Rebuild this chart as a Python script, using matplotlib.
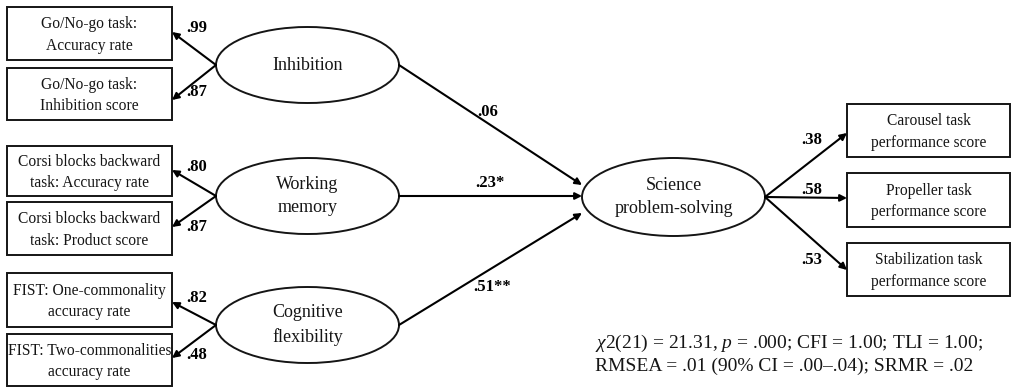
"""Structural model path diagram: executive functions -> science problem-solving."""

import matplotlib

matplotlib.use("Agg")
import matplotlib.pyplot as plt
from matplotlib.patches import Ellipse, Rectangle

plt.rcParams["font.family"] = ["Liberation Serif", "DejaVu Serif"]
plt.rcParams["mathtext.fontset"] = "custom"
plt.rcParams["mathtext.rm"] = "Liberation Serif"
plt.rcParams["mathtext.it"] = "Liberation Serif:italic"

# --- data -----------------------------------------------------------------
factors = ["Inhibition", "Working\nmemory", "Cognitive\nflexibility"]
indicators = [
    "Go/No-go task:\nAccuracy rate",
    "Go/No-go task:\nInhibition score",
    "Corsi blocks backward\ntask: Accuracy rate",
    "Corsi blocks backward\ntask: Product score",
    "FIST: One-commonality\naccuracy rate",
    "FIST: Two-commonalities\naccuracy rate",
]
loadings = [".99", ".87", ".80", ".87", ".82", ".48"]
paths = [".06", ".23*", ".51**"]
outcome = "Science\nproblem-solving"
outcome_indicators = [
    "Carousel task\nperformance score",
    "Propeller task\nperformance score",
    "Stabilization task\nperformance score",
]
outcome_loadings = [".38", ".58", ".53"]
fit_line1 = r"$\mathit{\chi 2}$(21) = 21.31, $\mathit{p}$ = .000; CFI = 1.00; TLI = 1.00;"
fit_line2 = "RMSEA = .01 (90% CI = .00–.04); SRMR = .02"

# --- layout (pixel coords, y down) ---------------------------------------
W, H = 1012, 388
left_boxes = [(7, 7, 60), (7, 68, 120), (7, 146, 196), (7, 202, 255), (7, 273, 327), (7, 334, 386)]
box_w = 165
factor_cy = [65, 196, 325]
factor_cx, ell_w, ell_h = 307.5, 183, 76
tip_y = [32, 100, 170, 227, 302, 358]
load_lab_y = [28, 92, 167, 227, 298, 355]
path_ends = [(582, 185), (582, 196), (582, 213)]
path_lab = [(488, 112), (490, 183), (492, 287)]
sci_c = (673.5, 197)
right_boxes = [(847, 104, 157), (847, 173, 227), (847, 243, 296)]
right_w = 163
right_tips = [133, 198, 270]
right_lab = [(812, 140), (812, 190), (812, 260)]

fig = plt.figure(figsize=(W / 100, H / 100), dpi=100)
ax = fig.add_axes([0, 0, 1, 1])
ax.set_xlim(0, W)
ax.set_ylim(H, 0)
ax.axis("off")

LW = 1.4
INK = "#151515"
arrow = dict(arrowstyle="-|>", lw=1.5, color="black", mutation_scale=10,
             shrinkA=0, shrinkB=0)


def box(x, y0, y1, w, text):
    ax.add_patch(Rectangle((x, y0), w, y1 - y0, fill=False, lw=LW, ec=INK))
    ax.text(x + w / 2, (y0 + y1) / 2 + 1.5, text, ha="center", va="center",
            fontsize=11.2, linespacing=1.45, color=INK)


for (x, y0, y1), txt in zip(left_boxes, indicators):
    box(x, y0, y1, box_w, txt)
for (x, y0, y1), txt in zip(right_boxes, outcome_indicators):
    box(x, y0, y1, right_w, txt)

for i, (cy, name) in enumerate(zip(factor_cy, factors)):
    ax.add_patch(Ellipse((factor_cx, cy), ell_w, ell_h, fill=False, lw=LW, ec=INK))
    ax.text(factor_cx, cy, name, ha="center", va="center", fontsize=13,
            linespacing=1.5, color=INK)
    left_pt = (factor_cx - ell_w / 2, cy)
    for k in (2 * i, 2 * i + 1):
        ax.annotate("", xy=(box_w + 7, tip_y[k]), xytext=left_pt, arrowprops=arrow)
        ax.text(197, load_lab_y[k], loadings[k], ha="center", va="center",
                fontsize=12, fontweight="bold")
    right_pt = (factor_cx + ell_w / 2, cy)
    ax.annotate("", xy=path_ends[i], xytext=right_pt, arrowprops=arrow)
    ax.text(*path_lab[i], paths[i], ha="center", va="center", fontsize=12,
            fontweight="bold")

ax.add_patch(Ellipse(sci_c, ell_w, ell_h + 2, fill=False, lw=LW, ec=INK))
ax.text(sci_c[0], sci_c[1], outcome, ha="center", va="center", fontsize=13,
        linespacing=1.5, color=INK)
sci_right = (sci_c[0] + ell_w / 2, sci_c[1])
for (x, y0, y1), ty, lab, (lx, ly) in zip(right_boxes, right_tips, outcome_loadings, right_lab):
    ax.annotate("", xy=(x, ty), xytext=sci_right, arrowprops=arrow)
    ax.text(lx, ly, lab, ha="center", va="center", fontsize=12, fontweight="bold")

ax.text(595, 343, fit_line1, ha="left", va="center", fontsize=14, color=INK)
ax.text(595, 366, fit_line2, ha="left", va="center", fontsize=14, color=INK)

fig.savefig("out.png", dpi=100)
